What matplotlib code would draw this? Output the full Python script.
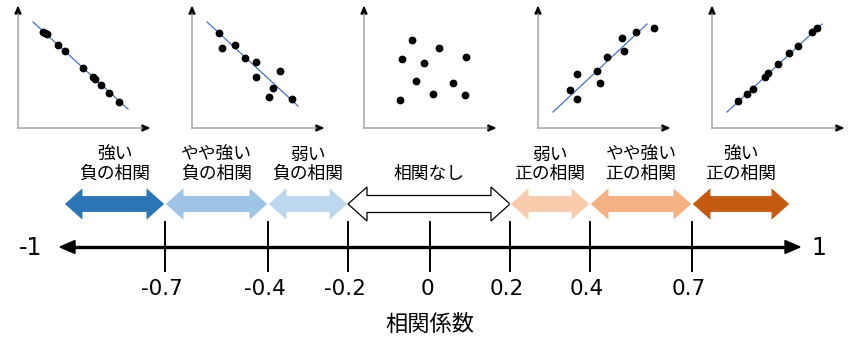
import numpy as np
import matplotlib
matplotlib.use("Agg")
import matplotlib.pyplot as plt
from matplotlib.patches import Polygon

plt.rcParams['font.family'] = ['Noto Sans CJK JP', 'DejaVu Sans']

# ---------------- data ----------------
tick_values = [-0.7, -0.4, -0.2, 0, 0.2, 0.4, 0.7]
tick_labels = ["-0.7", "-0.4", "-0.2", "0", "0.2", "0.4", "0.7"]
end_labels = ["-1", "1"]
axis_title = "相関係数"

categories = ["強い\n負の相関", "やや強い\n負の相関", "弱い\n負の相関", "相関なし",
              "弱い\n正の相関", "やや強い\n正の相関", "強い\n正の相関"]
cat_lo = [-1.0, -0.7, -0.4, -0.2, 0.2, 0.4, 0.7]
cat_hi = [-0.7, -0.4, -0.2, 0.2, 0.4, 0.7, 1.0]
cat_colors = ["#2E75B6", "#9DC3E6", "#BDD7EE", "#FFFFFF", "#F8CBAD", "#F4B183", "#C55A11"]

# scatter panels (local coordinates)
p1_x = [25, 27, 29, 40, 47, 65, 75, 77, 83, 91, 101]
p1_y = [96, 95, 94, 83, 77, 60, 51, 49, 43, 35, 26]
p2_x = [27, 30, 43, 53, 64, 64, 88, 81, 77, 100]
p2_y = [95, 80, 83, 70, 66, 51, 57, 40, 31, 29]
p3_x = [48, 75, 38, 60, 102, 52, 89, 69, 101, 36]
p3_y = [88, 80, 69, 65, 71, 47, 45, 34, 33, 28]
p4_x = [116, 98, 84, 86, 69, 59, 39, 62, 32, 39]
p4_y = [100, 96, 90, 77, 71, 57, 54, 45, 38, 29]
p5_x = [105, 100, 86, 77, 66, 56, 53, 41, 35, 26]
p5_y = [100, 96, 82, 75, 64, 55, 51, 39, 34, 27]
panel_x = [p1_x, p2_x, p3_x, p4_x, p5_x]
panel_y = [p1_y, p2_y, p3_y, p4_y, p5_y]
fit_x = [[15, 110], [15, 106], None, [15, 109], [15, 110]]
fit_y = [[106, 19], [106, 22], None, [16, 104], [16, 104]]

# ---------------- layout ----------------
W, H = 848, 353
fig = plt.figure(figsize=(W / 100, H / 100), dpi=100)
ax = fig.add_axes([0, 0, 1, 1])
ax.set_xlim(0, W)
ax.set_ylim(H, 0)
ax.axis("off")

map_v = [-1, -0.7, -0.4, -0.2, 0, 0.2, 0.4, 0.7, 1]
map_px = [64, 165, 268, 348, 430, 510, 590, 692, 790]
def vx(v):
    return float(np.interp(v, map_v, map_px))

axis_y = 247
# main axis line with arrow heads
ax.plot([72, 788], [axis_y, axis_y], color="black", lw=2.4, solid_capstyle="butt")
ax.add_patch(Polygon([[60, axis_y], [75, axis_y - 6.5], [75, axis_y + 6.5]], closed=True, color="black"))
ax.add_patch(Polygon([[800, axis_y], [785, axis_y - 6.5], [785, axis_y + 6.5]], closed=True, color="black"))
ax.text(31, axis_y + 1, end_labels[0], fontsize=17, ha="center", va="center", family="DejaVu Sans")
ax.text(819, axis_y + 1, end_labels[1], fontsize=17, ha="center", va="center", family="DejaVu Sans")

for v, lab in zip(tick_values, tick_labels):
    x = vx(v)
    ax.plot([x, x], [222, 271], color="black", lw=1.4)
    ax.text(x - 3, 289, lab, fontsize=15.5, ha="center", va="center", family="DejaVu Sans")
ax.text(430, 324, axis_title, fontsize=16, ha="center", va="center")

# block arrows
yc, Hh, Sh, hl = 204, 17, 8.5, 19
for lo, hi, c, lab in zip(cat_lo, cat_hi, cat_colors, categories):
    x0, x1 = vx(lo), vx(hi)
    pts = [[x0, yc], [x0 + hl, yc - Hh], [x0 + hl, yc - Sh], [x1 - hl, yc - Sh],
           [x1 - hl, yc - Hh], [x1, yc], [x1 - hl, yc + Hh], [x1 - hl, yc + Sh],
           [x0 + hl, yc + Sh], [x0 + hl, yc + Hh]]
    if c == "#FFFFFF":
        ax.add_patch(Polygon(pts, closed=True, facecolor="white", edgecolor="black", lw=0.9, joinstyle="miter"))
    else:
        ax.add_patch(Polygon(pts, closed=True, facecolor=c, edgecolor="white", lw=0.8))
    xm = (x0 + x1) / 2
    lines = lab.split("\n")
    if len(lines) == 2:
        ax.text(xm, 155, lines[0], fontsize=12.8, ha="center", va="center")
        ax.text(xm, 174, lines[1], fontsize=12.8, ha="center", va="center")
    else:
        ax.text(xm, 174, lines[0], fontsize=12.8, ha="center", va="center")

# scatter panels
origins = [18, 192, 364, 538, 712]
oy = 128
for i, ox in enumerate(origins):
    pax = fig.add_axes([ox / W, (H - oy) / H, 132 / W, 124 / H])
    pax.set_xlim(0, 132)
    pax.set_ylim(0, 124)
    pax.axis("off")
    gray = "#A6A6A6"
    pax.plot([0, 124], [0, 0], color=gray, lw=1.1, clip_on=False)
    pax.plot([0, 0], [0, 114], color=gray, lw=1.1, clip_on=False)
    pax.add_patch(Polygon([[131, 0], [124, -3], [124, 3]], closed=True, color="black", clip_on=False))
    pax.add_patch(Polygon([[0, 121], [-3, 114], [3, 114]], closed=True, color="black", clip_on=False))
    if fit_x[i] is not None:
        pax.plot(fit_x[i], fit_y[i], color="#4472C4", lw=0.9, clip_on=False)
    pax.plot(panel_x[i], panel_y[i], "o", color="black", ms=4.6, clip_on=False)

fig.savefig("out.png", dpi=100)
